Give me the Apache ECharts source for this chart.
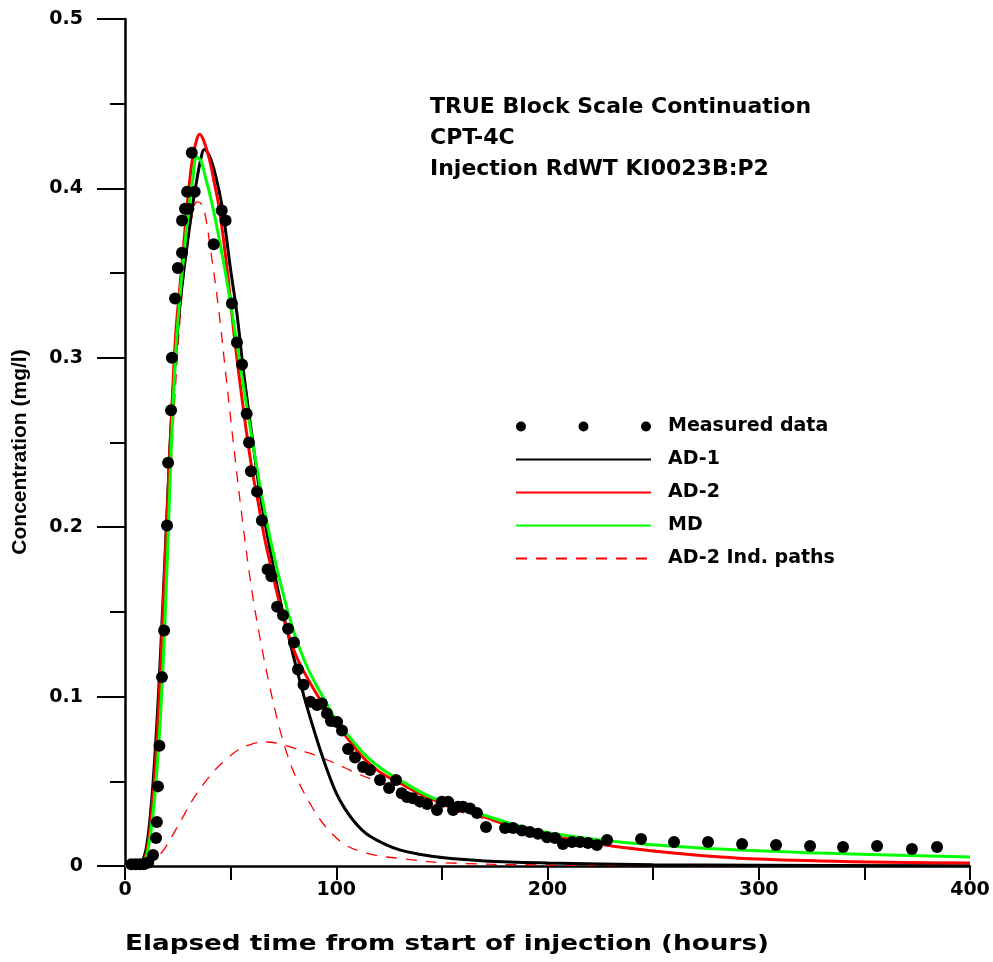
<!DOCTYPE html>
<html>
<head>
<meta charset="utf-8">
<script src="https://cdn.jsdelivr.net/npm/echarts@6/dist/echarts.min.js"></script>
<style>
  html, body { margin: 0; padding: 0; background: #fff; }
  #chart { width: 993px; height: 962px; }
</style>
</head>
<body>
<div id="chart"></div>
<script>
// measured concentrations [hours, mg/l]
var measured = [
  [3, 0.001], [5, 0.001], [7, 0.001], [9, 0.001], [11, 0.002],
  [13.3, 0.0065], [14.7, 0.0165], [15.1, 0.026], [15.6, 0.047], [16.3, 0.071],
  [17.5, 0.1115], [18.5, 0.139], [19.9, 0.201], [20.4, 0.238], [21.8, 0.269],
  [22.2, 0.300], [23.7, 0.335], [25, 0.353], [27, 0.362], [27, 0.381],
  [28.4, 0.388], [29.4, 0.398], [30, 0.388], [31.6, 0.421], [33, 0.398],
  [42, 0.367], [45.8, 0.387], [47.6, 0.381], [50.6, 0.332], [53, 0.309],
  [55.4, 0.296], [57.6, 0.267], [58.7, 0.250], [59.6, 0.233], [62.5, 0.221],
  [64.8, 0.204], [67.5, 0.175], [69.3, 0.171], [72, 0.153], [74.8, 0.148],
  [77.2, 0.140], [80, 0.132], [81.9, 0.116], [84.5, 0.107], [87.8, 0.097],
  [90.9, 0.095], [93.2, 0.096], [95.6, 0.090], [97.5, 0.0856], [100.4, 0.085],
  [102.7, 0.080], [105.6, 0.069], [108.9, 0.064], [112.7, 0.0585], [116, 0.0567],
  [120.7, 0.0508], [125, 0.046], [128.3, 0.0508], [131, 0.043], [133.5, 0.0408],
  [136.3, 0.040], [139.6, 0.038], [143, 0.0366], [147.7, 0.033], [150, 0.038],
  [153, 0.038], [155.3, 0.033], [157.6, 0.035], [160, 0.035], [163.3, 0.034],
  [166.6, 0.0313], [170.9, 0.023], [179.9, 0.0224], [183.7, 0.0224], [187.9, 0.021],
  [191.7, 0.020], [195.5, 0.019], [199.8, 0.017], [203.6, 0.0165], [207.3, 0.013],
  [211.6, 0.0142], [215.4, 0.0142], [219.2, 0.0136], [223.4, 0.0124], [228.2, 0.0153],
  [244.3, 0.0159], [259.9, 0.0142], [276, 0.0142], [292.1, 0.013], [308.2, 0.0124],
  [324.3, 0.0118], [339.9, 0.0112], [356, 0.0118], [372.5, 0.010], [384.4, 0.0112]
];

// model curves
var ad1 = [
  [0, 0], [7, 0], [8, 0.002], [10, 0.01], [12, 0.03], [14, 0.062], [16, 0.105],
  [18, 0.157], [20, 0.212], [22, 0.265], [24, 0.302], [26, 0.331], [28, 0.353],
  [30, 0.372], [32, 0.39], [34, 0.405], [36, 0.418], [37.5, 0.423], [40, 0.419],
  [43, 0.407], [46, 0.389], [50, 0.352], [53, 0.326], [56, 0.293], [60, 0.255],
  [64.4, 0.216], [69.6, 0.181], [73.4, 0.157], [77, 0.138], [80.5, 0.12],
  [85, 0.099], [90, 0.078], [95, 0.059], [100, 0.043], [104, 0.034], [108, 0.027],
  [112, 0.0215], [116, 0.0175], [122, 0.0135], [130, 0.0095], [140, 0.0068],
  [150, 0.005], [170, 0.003], [200, 0.0018], [250, 0.0008], [300, 0.0004], [400, 0.0001]
];

var ad2 = [
  [0, 0], [7, 0], [8, 0.001], [10, 0.007], [12, 0.024], [14, 0.053], [16, 0.095],
  [18, 0.15], [20, 0.21], [22, 0.265], [24, 0.314], [26, 0.342], [28, 0.37],
  [30, 0.397], [32, 0.418], [34, 0.429], [35.3, 0.432], [37, 0.429], [40, 0.417],
  [42, 0.405], [44.5, 0.389], [48, 0.356], [52, 0.31], [56, 0.27], [60, 0.235],
  [63, 0.215], [66, 0.194], [70, 0.172], [73, 0.156], [77, 0.138], [81, 0.124],
  [85, 0.114], [90, 0.103], [95, 0.093], [100, 0.084], [105, 0.076], [112, 0.065],
  [120, 0.056], [130, 0.049], [146, 0.039], [170, 0.029], [187, 0.022], [201, 0.018],
  [234, 0.0112], [282, 0.0053], [329, 0.003], [400, 0.0018]
];

var md = [
  [0, 0], [7, 0], [8, 0.0005], [10, 0.005], [12, 0.018], [14, 0.04], [16, 0.072],
  [18, 0.118], [20, 0.18], [22, 0.25], [24, 0.302], [26, 0.336], [28, 0.362],
  [30, 0.386], [32, 0.405], [34, 0.4185], [36, 0.416], [38, 0.407], [41, 0.392],
  [44, 0.374], [47, 0.354], [50, 0.332], [55, 0.292], [60, 0.253], [65, 0.217],
  [70, 0.186], [75, 0.16], [80, 0.138], [85, 0.121], [90, 0.108], [95, 0.097],
  [100, 0.086], [107, 0.075], [115, 0.064], [122, 0.057], [130, 0.0508], [146, 0.040],
  [170, 0.030], [187, 0.0235], [201, 0.0195], [234, 0.0142], [282, 0.010],
  [329, 0.0077], [400, 0.0053]
];

// AD-2 individual flow paths
var path1 = [
  [0, 0], [8, 0.0005], [10, 0.004], [12, 0.018], [14, 0.045], [16, 0.085], [18, 0.135],
  [20, 0.19], [22, 0.24], [24, 0.285], [26, 0.322], [28, 0.35], [30, 0.37],
  [32, 0.385], [34, 0.392], [36, 0.391], [38, 0.384], [40, 0.368], [44, 0.332],
  [48, 0.287], [52, 0.242], [56, 0.2], [60, 0.163], [64, 0.134], [68, 0.109],
  [72, 0.087], [76, 0.069], [80, 0.055], [84, 0.045], [88, 0.036], [92, 0.028],
  [98, 0.019], [105, 0.012], [112, 0.0085], [120, 0.006], [130, 0.0045],
  [150, 0.002], [200, 0.0006], [300, 0.0001], [400, 0]
];

var path2 = [
  [0, 0], [8, 0], [10, 0.0005], [14, 0.0035], [18, 0.009], [22, 0.017], [27, 0.028],
  [32, 0.039], [37, 0.048], [42.6, 0.0567], [48, 0.063], [53.5, 0.0685], [60, 0.072],
  [66.3, 0.0732], [72, 0.0725], [79, 0.070], [85, 0.0675], [91, 0.065], [97, 0.062],
  [104, 0.058], [111, 0.054], [122, 0.049], [135, 0.043], [146, 0.037], [170, 0.028],
  [200, 0.018], [234, 0.011], [282, 0.0053], [329, 0.003], [400, 0.0017]
];

var titleLines = ['TRUE Block Scale Continuation', 'CPT-4C', 'Injection RdWT KI0023B:P2'];
var xTicks = [0, 100, 200, 300, 400];

var wide = '"DejaVu Sans", Verdana, sans-serif';
var plain = '"Liberation Sans", Arial, sans-serif';
var dotsIcon = 'path://M0,5a5,5 0 1,0 10,0a5,5 0 1,0 -10,0M62.5,5a5,5 0 1,0 10,0a5,5 0 1,0 -10,0M125,5a5,5 0 1,0 10,0a5,5 0 1,0 -10,0';
var noSymbol = { opacity: 0 };

var chart = echarts.init(document.getElementById('chart'), null, { renderer: 'canvas' });

function lineSeries(name, data, color, width, dash, z) {
  return {
    name: name,
    type: 'line',
    data: data,
    smooth: 0.4,
    showSymbol: false,
    symbol: 'none',
    lineStyle: { color: color, width: width, type: dash || 'solid' },
    itemStyle: { color: color },
    z: z
  };
}

chart.setOption({
  animation: false,
  backgroundColor: '#fff',
  title: {
    text: titleLines.join('\n'),
    left: 425,
    top: 87,
    textStyle: { fontFamily: wide, fontWeight: 'bold', fontSize: 22, lineHeight: 31, color: '#000' }
  },
  legend: {
    orient: 'vertical',
    left: 510,
    top: 412,
    itemWidth: 135,
    itemHeight: 10,
    itemGap: 14,
    textStyle: { fontFamily: wide, fontWeight: 'bold', fontSize: 19, color: '#000', padding: [0, 0, 0, 12] },
    data: [
      { name: 'Measured data', icon: dotsIcon },
      { name: 'AD-1', itemStyle: noSymbol },
      { name: 'AD-2', itemStyle: noSymbol },
      { name: 'MD', itemStyle: noSymbol },
      { name: 'AD-2 Ind. paths', itemStyle: noSymbol }
    ]
  },
  graphic: [
    {
      type: 'text',
      x: 125,
      y: 945,
      scaleX: 1.25,
      style: {
        text: 'Elapsed time from start of injection (hours)',
        font: 'bold 21px ' + wide,
        fill: '#000',
        align: 'left',
        verticalAlign: 'middle'
      }
    },
    {
      type: 'text',
      x: 20,
      y: 452,
      rotation: Math.PI / 2,
      style: {
        text: 'Concentration (mg/l)',
        font: 'bold 21px ' + plain,
        fill: '#000',
        align: 'center',
        verticalAlign: 'middle'
      }
    }
  ],
  grid: { left: 125, right: 23, top: 19, bottom: 96 },
  xAxis: {
    type: 'value',
    min: 0,
    max: 400,
    interval: 50,
    splitLine: { show: false },
    axisLine: { lineStyle: { color: '#000', width: 2.5 } },
    axisTick: { length: 14, lineStyle: { color: '#000', width: 2 } },
    axisLabel: {
      margin: 15,
      color: '#000',
      fontFamily: wide,
      fontWeight: 'bold',
      fontSize: 19,
      formatter: function (v) { return xTicks.indexOf(v) >= 0 ? String(v) : ''; }
    }
  },
  yAxis: {
    type: 'value',
    min: 0,
    max: 0.5,
    interval: 0.1,
    splitLine: { show: false },
    axisLine: { show: true, lineStyle: { color: '#000', width: 2.5 } },
    axisTick: { show: true, length: 28, lineStyle: { color: '#000', width: 2 } },
    minorTick: { show: true, splitNumber: 2, length: 15, lineStyle: { color: '#000', width: 2 } },
    axisLabel: {
      margin: 42,
      color: '#000',
      fontFamily: wide,
      fontWeight: 'bold',
      fontSize: 19
    }
  },
  series: [
    lineSeries('AD-2 Ind. paths', path1, '#ff0000', 1.3, [11, 9], 1),
    lineSeries('AD-2 Ind. paths', path2, '#ff0000', 1.3, [11, 9], 1),
    lineSeries('AD-1', ad1, '#000000', 3, null, 2),
    lineSeries('AD-2', ad2, '#ff0000', 3, null, 3),
    lineSeries('MD', md, '#00ff00', 3, null, 4),
    {
      name: 'Measured data',
      type: 'scatter',
      data: measured,
      symbol: 'circle',
      symbolSize: 12,
      itemStyle: { color: '#000', opacity: 1 },
      z: 5
    }
  ]
});
</script>
</body>
</html>
